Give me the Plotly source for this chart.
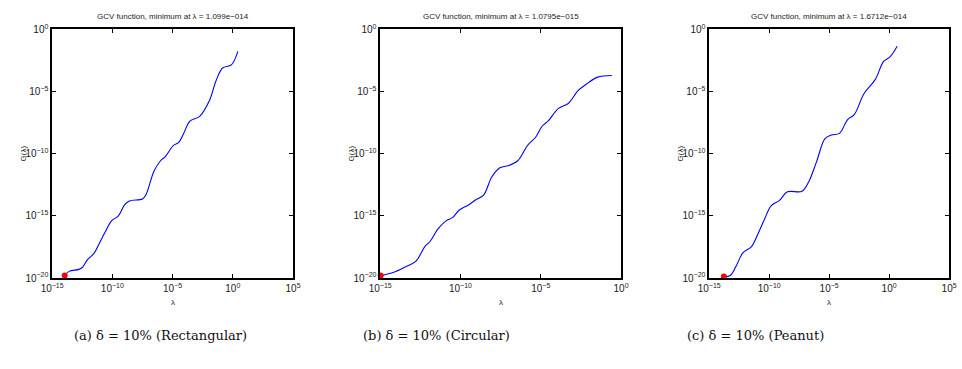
import numpy as np
import plotly.graph_objects as go

# GCV curves, stored as log10(lambda) and log10(G(lambda))
loglam_rect = [-13.96, -13.6, -12.78, -12.5, -12.05, -11.56, -11.15, -10.6, -10.07, -9.5,
               -8.98, -8.58, -7.5, -7.22, -6.54, -6.0, -5.6, -4.92, -4.51, -4.1, -3.56,
               -2.75, -1.93, -1.4, -0.85, -0.12, 0.42]
logG_rect = [-19.8, -19.46, -19.3, -19.15, -18.5, -18.06, -17.34, -16.3, -15.4, -15.0,
             -14.1, -13.8, -13.64, -13.33, -11.4, -10.57, -10.23, -9.33, -9.12, -8.42, -7.39,
             -7.0, -5.71, -4.16, -3.12, -2.87, -1.78]

loglam_circ = [-14.967, -14.15, -13.44, -12.77, -12.22, -11.91, -11.4, -10.9, -10.5, -10.09,
               -9.48, -9.07, -8.56, -8.06, -7.55, -6.94, -6.43, -5.82, -5.32, -4.91, -4.55,
               -3.9, -3.29, -2.68, -2.17, -1.46, -0.58]
logG_circ = [-19.8, -19.53, -19.1, -18.63, -17.47, -17.08, -16.05, -15.4, -15.14, -14.55,
             -14.1, -13.72, -13.33, -11.9, -11.14, -10.93, -10.57, -9.33, -8.68, -7.78, -7.39,
             -6.36, -5.97, -4.94, -4.42, -3.85, -3.72]

loglam_pean = [-13.777, -13.24, -12.69, -12.2, -11.47, -10.93, -10.39, -9.84, -9.16, -8.48,
               -7.26, -6.72, -6.04, -5.36, -4.81, -4.14, -3.46, -2.91, -2.1, -1.15, -0.47,
               0.08, 0.67]
logG_pean = [-19.88, -19.79, -18.9, -17.98, -17.47, -16.43, -15.27, -14.19, -13.77, -13.07,
             -13.02, -12.3, -10.62, -8.81, -8.5, -8.37, -7.26, -6.87, -5.19, -4.03, -2.61,
             -2.22, -1.37]

# GCV minimisers reported in the panel titles, and the G value there
lam_min = [1.099e-14, 1.0795e-15, 1.6712e-14]
lam_min_text = ["1.099e\u2212014", "1.0795e\u2212015", "1.6712e\u2212014"]
G_min = [10 ** -19.8, 10 ** -19.8, 10 ** -19.88]

captions = ["(a) \u03b4 = 10% (Rectangular)", "(b) \u03b4 = 10% (Circular)", "(c) \u03b4 = 10% (Peanut)"]
x_ranges = [(-15, 5), (-15, 0), (-15, 5)]
y_range = (-20, 0)

curves = [(loglam_rect, logG_rect), (loglam_circ, logG_circ), (loglam_pean, logG_pean)]

W, H = 962, 369
x_domains = [(41 / W, 287 / W), (376 / W, 622 / W), (712 / W, 957 / W)]
y_domain = (1 - 281 / H, 1 - 23 / H)


def decade_ticks(lo, hi):
    exps = list(range(lo, hi + 1, 5))
    vals = [10.0 ** e for e in exps]
    text = [f"10<sup>{str(e).replace('-', '\u2212')}</sup>" for e in exps]
    return vals, text


fig = go.Figure()
sans = "Liberation Sans, Arial, sans-serif"
axis_font = dict(family=sans, size=10, color="#222")

for i, (lx, ly) in enumerate(curves):
    xa = "x" if i == 0 else f"x{i+1}"
    ya = "y" if i == 0 else f"y{i+1}"
    fig.add_trace(go.Scatter(
        x=10 ** np.array(lx), y=10 ** np.array(ly), mode="lines",
        line=dict(color="#0000ff", width=1.1, shape="spline", smoothing=1.0),
        xaxis=xa, yaxis=ya, showlegend=False, hoverinfo="skip"))
    fig.add_trace(go.Scatter(
        x=[lam_min[i]], y=[G_min[i]], mode="markers",
        marker=dict(color="#ff0000", size=6, symbol="circle"),
        xaxis=xa, yaxis=ya, showlegend=False, cliponaxis=False, hoverinfo="skip"))

    common = dict(type="log", showline=True, linecolor="black", linewidth=1.5,
                  mirror="ticks", ticks="inside", ticklen=4, tickcolor="black",
                  showgrid=False, zeroline=False, tickfont=axis_font)
    xv, xt = decade_ticks(*x_ranges[i])
    yv, yt = decade_ticks(*y_range)
    xkey = "xaxis" if i == 0 else f"xaxis{i+1}"
    ykey = "yaxis" if i == 0 else f"yaxis{i+1}"
    fig.update_layout(**{
        xkey: dict(common, domain=x_domains[i], range=list(x_ranges[i]), anchor=ya,
                   tickvals=xv, ticktext=xt),
        ykey: dict(common, domain=y_domain, range=list(y_range), anchor=xa,
                   tickvals=yv, ticktext=yt),
    })

    x0, x1 = x_domains[i]
    xc = (x0 + x1) / 2
    fig.add_annotation(text=f"GCV function, minimum at \u03bb = {lam_min_text[i]}",
                       x=xc, y=1 - 10 / H, xref="paper", yref="paper", showarrow=False,
                       xanchor="center", yanchor="middle",
                       font=dict(family=sans, size=8, color="#222"))
    fig.add_annotation(text="G(\u03bb)", x=x0 - 29 / W, y=(y_domain[0] + y_domain[1]) / 2,
                       xref="paper", yref="paper", showarrow=False, textangle=-90,
                       xanchor="center", yanchor="middle",
                       font=dict(family=sans, size=8, color="#222"))
    fig.add_annotation(text="\u03bb", x=xc, y=1 - 306 / H, xref="paper", yref="paper",
                       showarrow=False, xanchor="center", yanchor="middle",
                       font=dict(family=sans, size=8, color="#222"))

caption_x = [152, 434, 759]
for cx, cap in zip(caption_x, captions):
    fig.add_annotation(text=cap, x=cx / W, y=1 - 341 / H, xref="paper", yref="paper",
                       showarrow=False, xanchor="center", yanchor="middle",
                       font=dict(family="DejaVu Serif, Liberation Serif, serif", size=13, color="#111"))

fig.update_layout(width=W, height=H, margin=dict(l=0, r=0, t=0, b=0),
                  paper_bgcolor="white", plot_bgcolor="white")

fig.write_html("out.html")
